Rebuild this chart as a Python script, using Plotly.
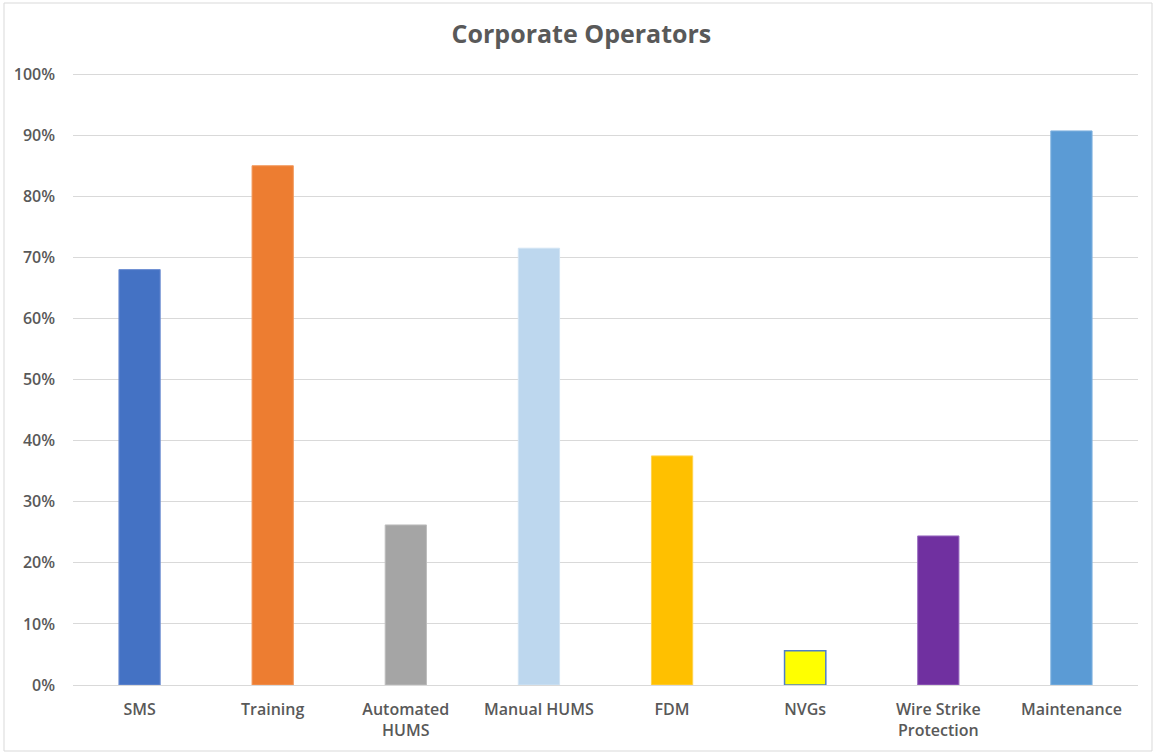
import plotly.graph_objects as go

categories = ["SMS", "Training", "Automated<br>HUMS", "Manual HUMS", "FDM",
              "NVGs", "Wire Strike<br>Protection", "Maintenance"]
shares = [0.68, 0.85, 0.262, 0.715, 0.375, 0.056, 0.244, 0.907]
bar_colors = ["#4472C4", "#ED7D31", "#A5A5A5", "#BDD7EE", "#FFC000",
              "#FFFF00", "#7030A0", "#5B9BD5"]
edge_colors = ["#6E8FD3", "#F29A5E", "#BDBDBD", "#D2E4F4", "#FFD24D",
               "#4F7FC8", "#9A6CC0", "#82B4E0"]
edge_widths = [1, 1, 1, 1, 1, 1.5, 1, 1]
tick_vals = [i / 10 for i in range(11)]
tick_text = [f"{i * 10}%" for i in range(11)]
y_top = 1.01

W, H = 1156, 754
ML, MR, MT, MB = 73, 18, 68, 69
fig = go.Figure(go.Bar(
    x=categories, y=shares,
    marker=dict(color=bar_colors, line=dict(color=edge_colors, width=edge_widths)),
    width=0.31,
))

pw, ph = W - ML - MR, H - MT - MB
fig.add_shape(type="rect", xref="paper", yref="paper",
              x0=(4 - ML) / pw, x1=(W - 4 - ML) / pw,
              y0=-(MB - 3) / ph, y1=1 + (MT - 3) / ph,
              line=dict(color="#D9D9D9", width=1), layer="below")

font = "'Open Sans', Lato, sans-serif"
fig.update_layout(
    width=W, height=H,
    margin=dict(l=ML, r=MR, t=MT, b=MB),
    paper_bgcolor="white", plot_bgcolor="white",
    title=dict(text="Corporate Operators", x=0.503, xref="container", xanchor="center",
               y=(H - 34) / H, yanchor="middle",
               font=dict(family=font, size=25, color="#595959", weight=700)),
    showlegend=False,
    font=dict(family=font, size=15, color="#595959"),
    xaxis=dict(showline=False, ticks="", showgrid=False, ticklabelstandoff=13,
               tickfont=dict(family=font, size=16, color="#595959", weight=600)),
    yaxis=dict(range=[0, y_top], tickvals=tick_vals, ticktext=tick_text,
               showgrid=True, gridcolor="#D9D9D9", gridwidth=1,
               zeroline=True, zerolinecolor="#D9D9D9", zerolinewidth=1,
               ticks="", ticklabelstandoff=17,
               tickfont=dict(family=font, size=16, color="#595959", weight=600)),
)

fig.write_html("out.html")
